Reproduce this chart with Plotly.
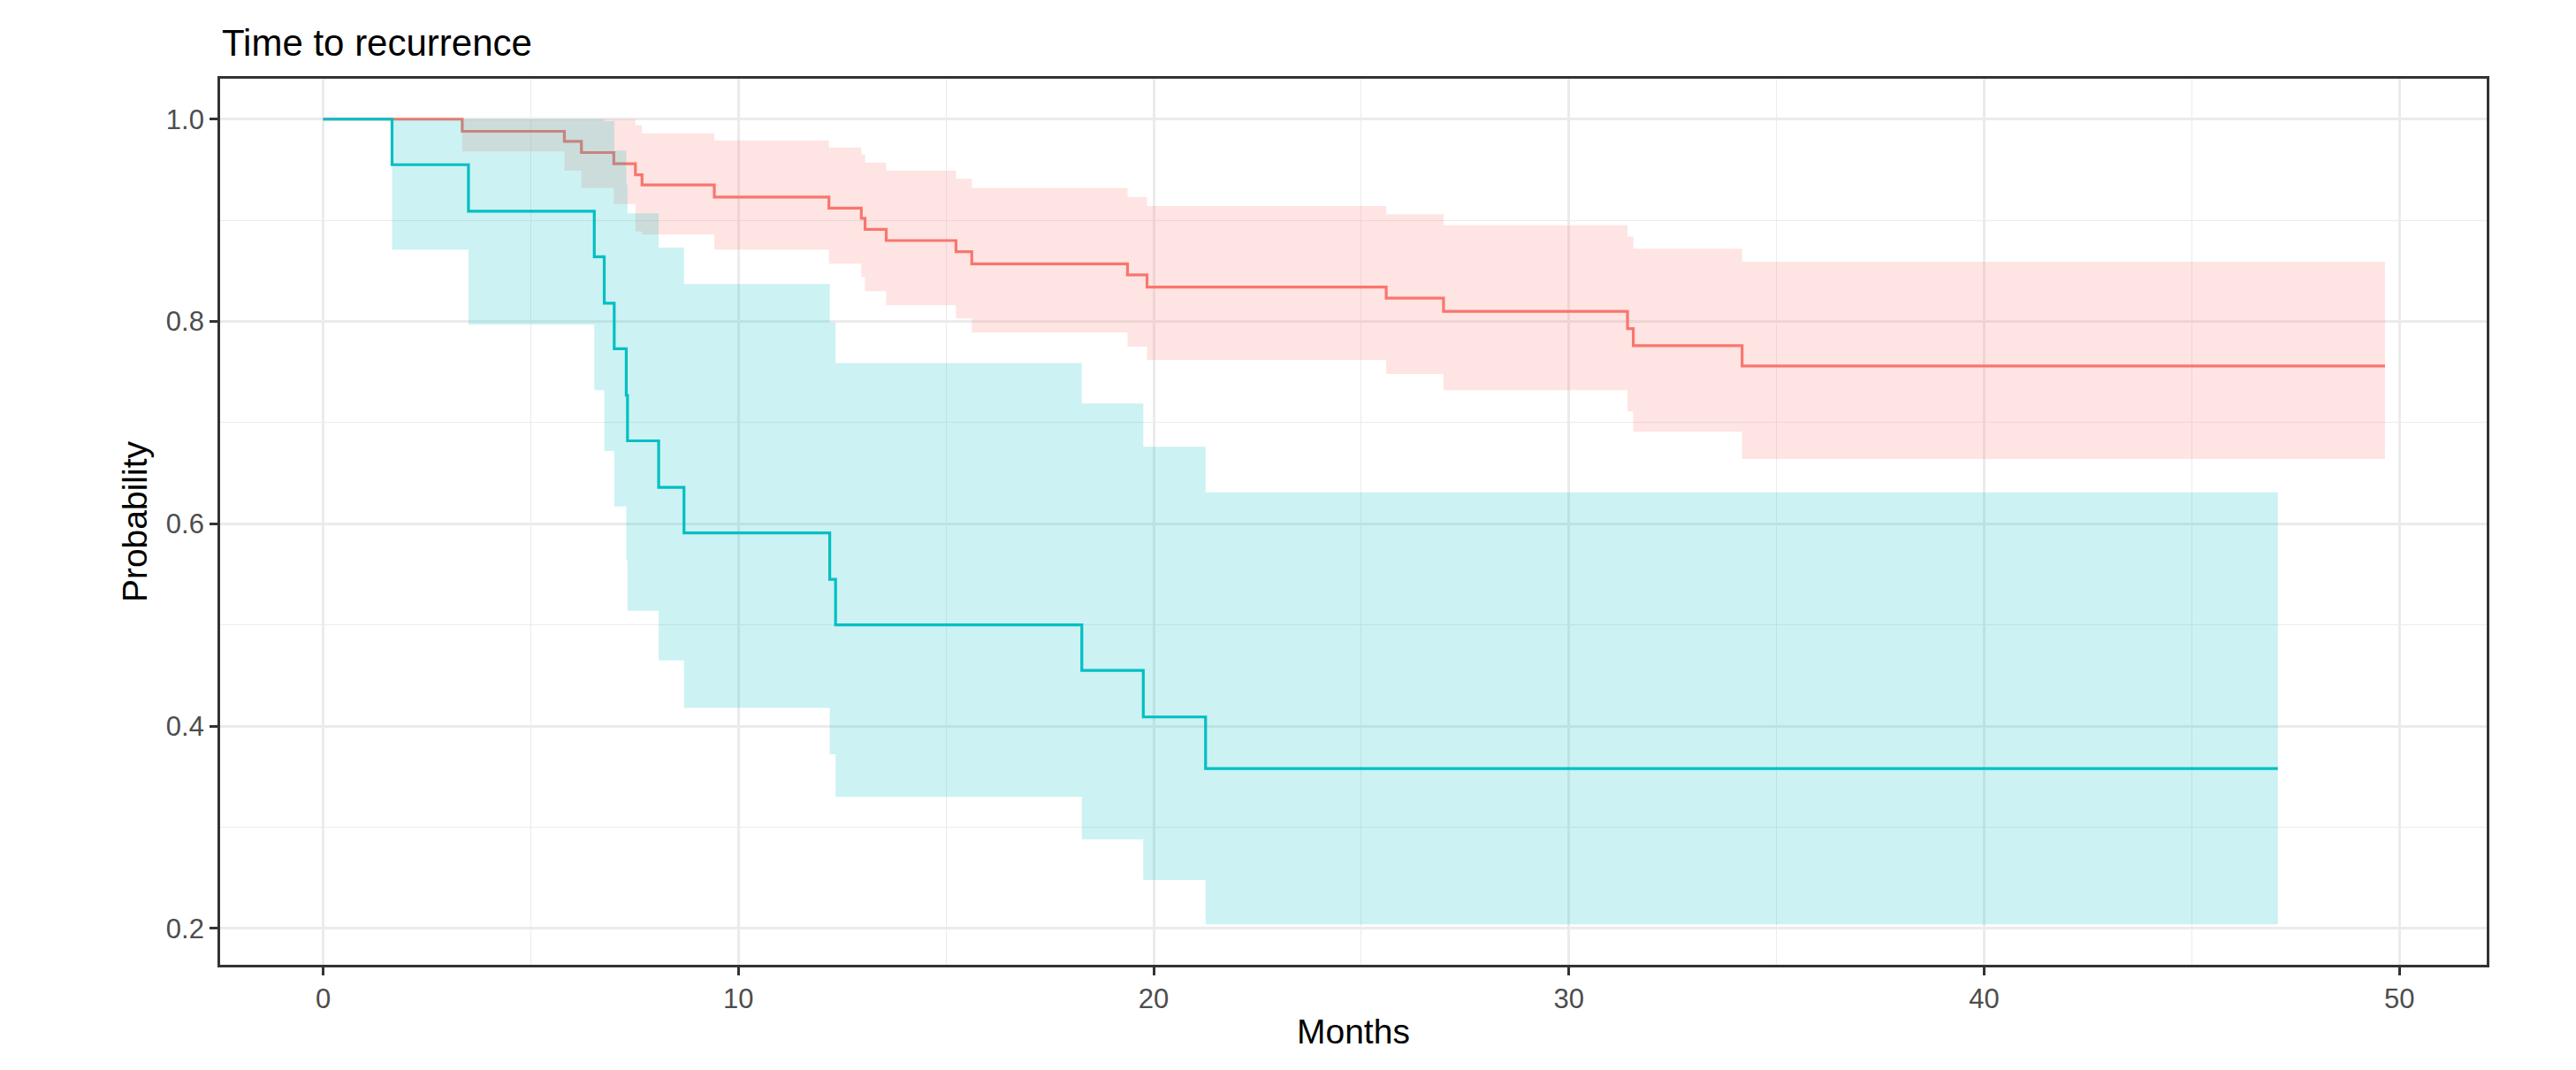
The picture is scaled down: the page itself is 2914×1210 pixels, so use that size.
import plotly.graph_objects as go

# ---- data (Kaplan-Meier step curves with CI) ----
times_red = [0, 3.35, 5.81, 6.22, 7.00, 7.52, 7.68, 9.42, 12.18, 12.96, 13.05, 13.56,
             15.24, 15.62, 19.37, 19.84, 25.60, 26.98, 31.41, 31.55, 34.17]
surv_red = [1.0, 0.988, 0.978, 0.967, 0.956, 0.945, 0.935, 0.923, 0.912, 0.902, 0.891, 0.880,
            0.869, 0.857, 0.846, 0.834, 0.823, 0.810, 0.793, 0.776, 0.756]
upper_red = [1.0, 1.0, 1.0, 1.0, 1.0, 0.994, 0.986, 0.979, 0.972, 0.965, 0.957, 0.949,
             0.941, 0.932, 0.923, 0.914, 0.906, 0.895, 0.884, 0.872, 0.859]
lower_red = [1.0, 0.968, 0.949, 0.932, 0.916, 0.889, 0.886, 0.871, 0.857, 0.844, 0.830, 0.816,
             0.803, 0.789, 0.775, 0.762, 0.748, 0.732, 0.711, 0.691, 0.664]
end_red = 49.65

times_cyan = [0, 1.66, 3.50, 6.53, 6.77, 7.01, 7.30, 7.33, 8.08, 8.69, 12.20, 12.34,
              18.27, 19.75, 21.25]
surv_cyan = [1.0, 0.955, 0.909, 0.864, 0.818, 0.773, 0.727, 0.682, 0.636, 0.591, 0.545, 0.500,
             0.455, 0.409, 0.358]
upper_cyan = [1.0, 1.0, 1.0, 1.0, 0.998, 0.969, 0.935, 0.907, 0.873, 0.837, 0.799, 0.759,
              0.719, 0.676, 0.631]
lower_cyan = [1.0, 0.871, 0.797, 0.732, 0.672, 0.617, 0.564, 0.514, 0.465, 0.418, 0.372, 0.330,
              0.288, 0.248, 0.204]
end_cyan = 47.07

x_ticks = [0, 10, 20, 30, 40, 50]
y_ticks = [0.2, 0.4, 0.6, 0.8, 1.0]

title_text = "Time to recurrence"
x_title = "Months"
y_title = "Probability"

RED = "#F8766D"
CYAN = "#00BFC4"
FONT = "Liberation Sans, Arial, Helvetica, sans-serif"


def ext(t, v, end):
    return list(t) + [end], list(v) + [v[-1]]


fig = go.Figure()


def add_group(times, surv, up, lo, end, color, fill):
    xl, yl = ext(times, lo, end)
    xu, yu = ext(times, up, end)
    xs, ys = ext(times, surv, end)
    fig.add_trace(go.Scatter(x=xl, y=yl, mode="lines", line=dict(width=0, shape="hv"),
                             hoverinfo="skip", showlegend=False))
    fig.add_trace(go.Scatter(x=xu, y=yu, mode="lines", line=dict(width=0, shape="hv"),
                             fill="tonexty", fillcolor=fill, hoverinfo="skip", showlegend=False))
    fig.add_trace(go.Scatter(x=xs, y=ys, mode="lines", line=dict(color=color, width=3.2, shape="hv"),
                             showlegend=False))


add_group(times_red, surv_red, upper_red, lower_red, end_red, RED, "rgba(248,118,109,0.2)")
add_group(times_cyan, surv_cyan, upper_cyan, lower_cyan, end_cyan, CYAN, "rgba(0,191,196,0.2)")

axis_common = dict(
    showgrid=True, gridcolor="#EBEBEB", gridwidth=2.7, zeroline=False,
    showline=True, mirror=True, linecolor="#333333", linewidth=2.7,
    ticks="outside", ticklen=9, tickwidth=2.7, tickcolor="#333333",
    tickfont=dict(family=FONT, size=31, color="#4D4D4D"),
)

fig.update_layout(
    width=2914, height=1210,
    margin=dict(l=249, r=101, t=89, b=119),
    paper_bgcolor="white", plot_bgcolor="white",
    showlegend=False,
    xaxis=dict(range=[-2.48, 52.1], tickvals=x_ticks, ticktext=[str(v) for v in x_ticks],
               minor=dict(dtick=5, tick0=0, showgrid=True, gridcolor="#EBEBEB", gridwidth=1.4),
               **axis_common),
    yaxis=dict(range=[0.164, 1.04], tickvals=y_ticks, ticktext=[f"{v:.1f}" for v in y_ticks],
               minor=dict(dtick=0.1, tick0=0.2, showgrid=True, gridcolor="#EBEBEB", gridwidth=1.4),
               **axis_common),
    annotations=[
        dict(text=title_text, xref="paper", yref="paper", x=0.0, y=1.040,
             xanchor="left", yanchor="middle", showarrow=False,
             font=dict(family=FONT, size=42, color="black")),
        dict(text=x_title, xref="paper", yref="paper", x=0.5, y=-0.0749,
             xanchor="center", yanchor="middle", showarrow=False,
             font=dict(family=FONT, size=39, color="black")),
        dict(text=y_title, xref="paper", yref="paper", x=-0.0378, y=0.5, textangle=-90,
             xanchor="center", yanchor="middle", showarrow=False,
             font=dict(family=FONT, size=39, color="black")),
    ],
)

fig.write_html("out.html", config={"displayModeBar": False},
               post_script="document.body.style.margin='0';document.body.style.overflow='hidden';")
